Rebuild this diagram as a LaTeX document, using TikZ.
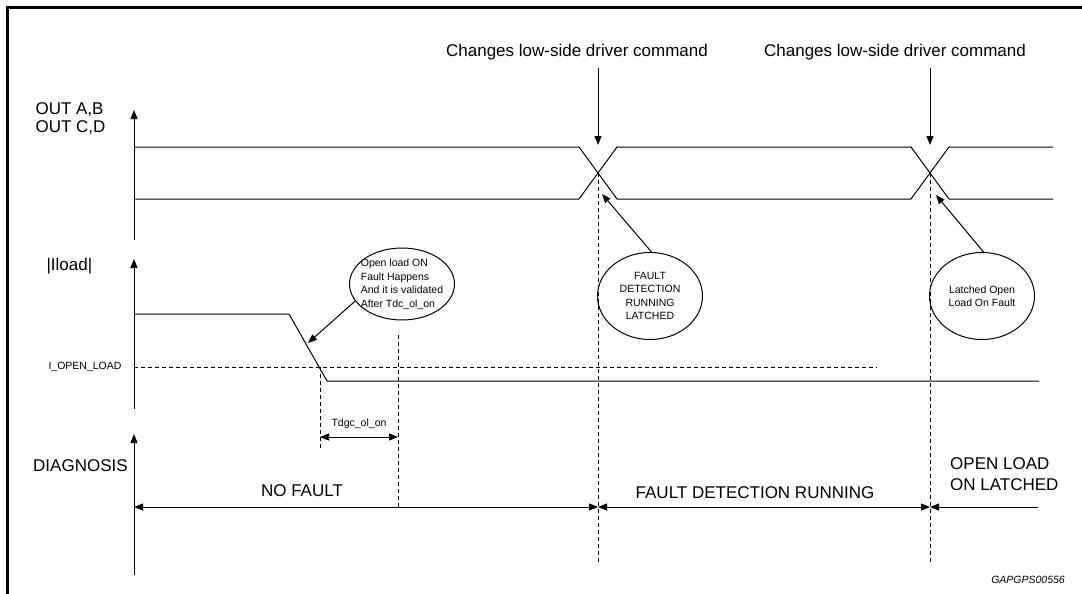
\documentclass[tikz,border=0pt]{standalone}
\usepackage{fontspec}
\setmainfont{Liberation Sans}
\usetikzlibrary{arrows.meta, shapes.geometric}

\begin{document}
\begin{tikzpicture}[x=1pt, y=-1pt,
    sig/.style={line width=1pt},
    dsh/.style={line width=0.9pt, dash pattern=on 4pt off 3pt},
    tip/.style={-{Triangle[length=9pt, width=7pt]}},
    twotip/.style={{Triangle[length=9pt, width=7pt]}-{Triangle[length=9pt, width=7pt]}},
    big/.style={font=\fontsize{17}{21}\selectfont},
    small/.style={font=\fontsize{10.5}{13}\selectfont},
    bubble/.style={draw, ellipse, line width=1pt, inner sep=0pt, align=center, font=\fontsize{10.5}{13.5}\selectfont}]
    \useasboundingbox (0,0) rectangle (1082,594);
    \draw[line width=3pt] (1082,7.5) -- (7.5,7.5) -- (7.5,594);

    % Axes
    \draw[sig, tip] (134,240) -- (134,110);
    \draw[sig, tip] (134,409) -- (134,259);
    \draw[sig, tip] (134,575) -- (134,434);
    \node[big, anchor=west, align=left, font=\fontsize{17}{18}\selectfont] (outlbl) at (32,119) {OUT A,B\\OUT C,D};
    \node[big, anchor=west] (iloadlbl) at (43,266) {|Iload|};
    \node[big, anchor=west, inner xsep=0pt] (diaglbl) at (33,466) {DIAGNOSIS};

    % Output commands
    \coordinate (x1) at (598,173);
    \coordinate (x2) at (930,173);
    \draw[sig] (134,147) -- (579,147) -- (617,199) -- (911,199) -- (949,147) -- (1053,147);
    \draw[sig] (134,199) -- (579,199) -- (617,147) -- (911,147) -- (949,199) -- (1053,199);
    \node[big] (cmd1) at (577,52) {Changes low-side driver command};
    \node[big] (cmd2) at (895,52) {Changes low-side driver command};
    \coordinate (cmd1s) at (598,68);
    \coordinate (cmd2s) at (930,68);
    \coordinate (cmd1e) at (598,145);
    \coordinate (cmd2e) at (930,145);
    \draw[sig, tip] (cmd1s) -- (cmd1e);
    \draw[sig, tip] (cmd2s) -- (cmd2e);

    % Load current
    \draw[sig] (134,314) -- (289,314) -- (327,381) -- (1039,381);
    \draw[dsh] (134,367) -- (877,367);
    \node[small, font=\fontsize{10.5}{13}\selectfont] (iol) at (85,367) {I\_OPEN\_LOAD};
    \coordinate (thr) at (320,367);
    \coordinate (val) at (398,335);

    % Time markers
    \draw[dsh] (x1) -- (598,562);
    \draw[dsh] (x2) -- (930,562);
    \draw[dsh] (thr) -- (320,448);
    \draw[dsh] (val) -- (398,507);
    \coordinate (t1) at (320,437);
    \coordinate (t2) at (398,437);
    \draw[sig, twotip] (t1) -- (t2);
    \node[small] (tdgc) at (359,424) {Tdgc\_ol\_on};

    % Bubbles
    \node[bubble, align=left, minimum width=105pt, minimum height=72pt, inner xsep=-5pt] (b1) at (402,284)
        {Open load ON\\Fault Happens\\And it is validated\\After Tdc\_ol\_on};
    \node[bubble, minimum width=105pt, minimum height=87pt] (b2) at (650,296)
        {FAULT\\DETECTION\\RUNNING\\LATCHED};
    \node[bubble, minimum width=105pt, minimum height=87pt] (b3) at (982,296)
        {Latched Open\\Load On Fault};
    \coordinate (p1) at (308,343);
    \coordinate (p2) at (602,194);
    \coordinate (p3) at (936,195);
    \draw[sig, tip] (b1.200) -- (p1);
    \draw[sig, tip] (b2.88) -- (p2);
    \draw[sig, tip] (b3.88) -- (p3);

    % Diagnosis
    \coordinate (d0) at (134,507);
    \coordinate (d1) at (598,507);
    \coordinate (d2) at (930,507);
    \coordinate (d3) at (1038,507);
    \draw[sig, twotip] (d0) -- (d1);
    \draw[sig, twotip] (d1) -- (d2);
    \draw[sig, tip] (d3) -- (d2);
    \node[big] (nofault) at (302,491) {NO FAULT};
    \node[big] (fdr) at (755,493) {FAULT DETECTION RUNNING};
    \node[big, anchor=west, align=left, inner xsep=0pt] (oll) at (950,474) {OPEN LOAD\\ON LATCHED};
    \node[font=\fontsize{10.5}{13}\itshape, anchor=east, inner xsep=0pt] (ref) at (1065,580) {GAPGPS00556};
\end{tikzpicture}
\end{document}
